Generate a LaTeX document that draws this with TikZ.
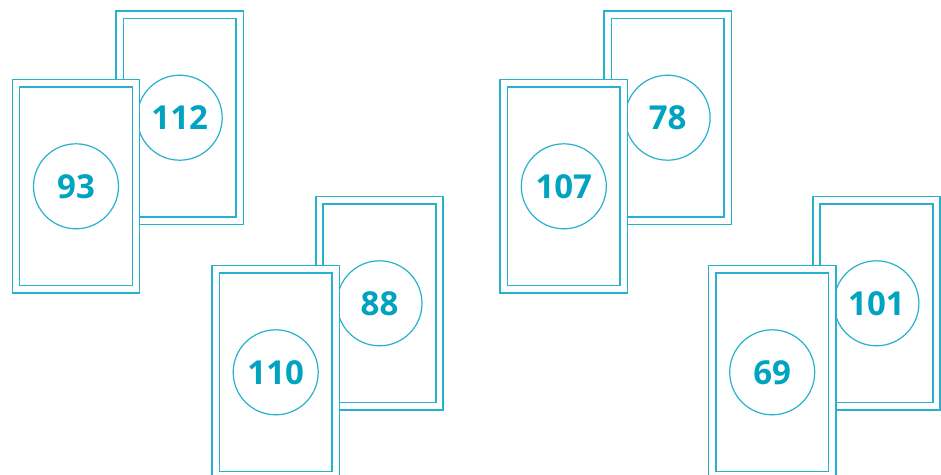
\documentclass[tikz,border=0pt]{standalone}
\usepackage{fontspec}
\newfontfamily\numfont{Open Sans}
\definecolor{cardline}{RGB}{38,178,204}
\definecolor{numtext}{RGB}{0,163,192}
\tikzset{
  card/.style={draw=cardline, line width=1.5pt, double=white, double distance=5.8pt,
    fill=white, rectangle, minimum width=120pt, minimum height=206pt, inner sep=0pt},
  numcircle/.style={draw=cardline, line width=1.2pt, circle, fill=white,
    minimum size=85pt, inner sep=0pt, text=numtext, font=\numfont\bfseries\fontsize{33}{33}\selectfont}
}
\begin{document}
\begin{tikzpicture}[x=1pt,y=-1pt]
\useasboundingbox (0,0) rectangle (941,474);
% pair 1
\node[card] (b1) at (179.7,117.7) {};
\node[numcircle] (nb1) at (b1.center) {112};
\node[card] (f1) at (76,186.3) {};
\node[numcircle] (nf1) at (f1.center) {93};
% pair 2
\node[card] (b2) at (379.5,303.3) {};
\node[numcircle] (nb2) at (b2.center) {88};
\node[card] (f2) at (275.7,372.3) {};
\node[numcircle] (nf2) at (f2.center) {110};
% pair 3
\node[card] (b3) at (667.6,117.7) {};
\node[numcircle] (nb3) at (b3.center) {78};
\node[card] (f3) at (563.8,186.3) {};
\node[numcircle] (nf3) at (f3.center) {107};
% pair 4
\node[card] (b4) at (876.4,303.3) {};
\node[numcircle] (nb4) at (b4.center) {101};
\node[card] (f4) at (772.2,372.3) {};
\node[numcircle] (nf4) at (f4.center) {69};
\end{tikzpicture}
\end{document}
